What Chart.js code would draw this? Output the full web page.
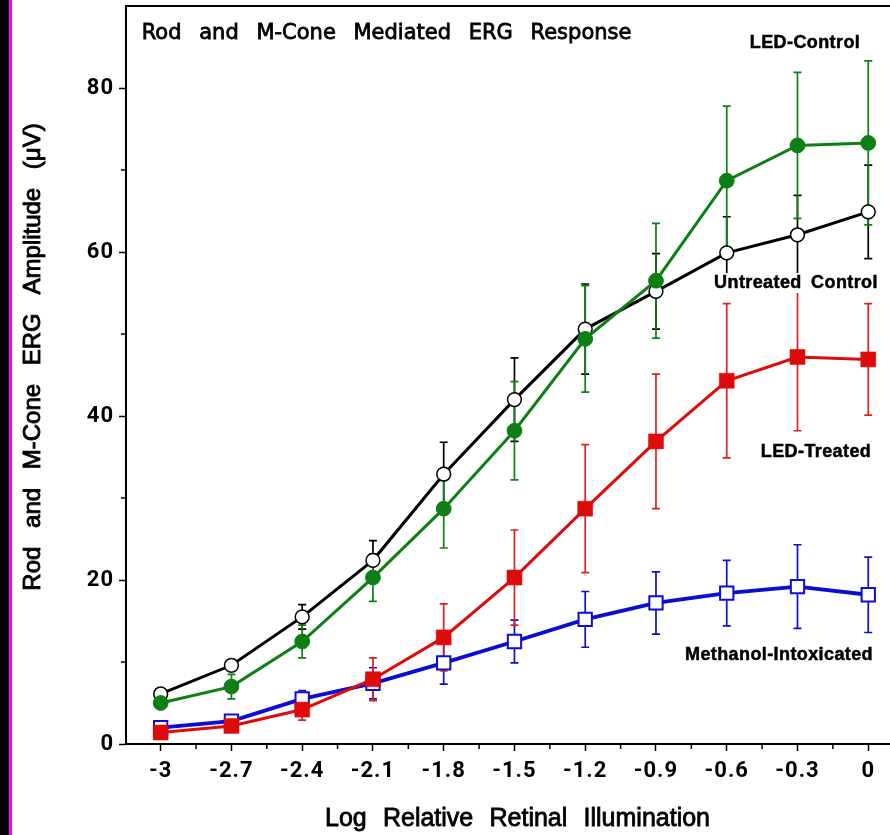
<!DOCTYPE html>
<html><head><meta charset="utf-8">
<script src="https://cdn.jsdelivr.net/npm/chart.js@4/dist/chart.umd.min.js"></script>
<style>
html,body{margin:0;padding:0;background:#fff;overflow:hidden;width:890px;height:835px;position:relative;}
#s1{position:absolute;left:0;top:0;width:9px;height:835px;background:#000;}
#s2{position:absolute;left:9px;top:0;width:3px;height:835px;background:#ff00ff;}
#c{position:absolute;left:12px;top:0;}
</style></head><body>
<div id="s1"></div><div id="s2"></div>
<canvas id="c" width="898" height="835"></canvas>
<script>
// ---- data ----
const xValues = [-3, -2.7, -2.4, -2.1, -1.8, -1.5, -1.2, -0.9, -0.6, -0.3, 0];
const untreated     = [6.1, 9.6, 15.5, 22.4, 32.9, 42.0, 50.6, 55.2, 59.9, 62.1, 64.9];
const untreatedErr  = [0.5, 0.6, 1.5, 2.4, 3.9, 5.1, 5.5, 4.6, 4.4, 4.8, 5.7];
const ledControl    = [5.0, 7.0, 12.5, 20.3, 28.7, 38.2, 49.4, 56.5, 68.7, 73.0, 73.3];
const ledControlErr = [0.5, 1.5, 2.0, 2.9, 4.8, 6.0, 6.5, 7.0, 9.1, 8.9, 10.0];
const ledTreated    = [1.4, 2.2, 4.2, 7.9, 13.0, 20.3, 28.7, 36.9, 44.3, 47.2, 46.9];
const ledTreatedErr = [0.4, 0.5, 1.3, 2.6, 4.1, 5.8, 7.8, 8.2, 9.4, 9.0, 6.8];
const methanol      = [2.0, 2.8, 5.5, 7.4, 9.9, 12.5, 15.2, 17.2, 18.4, 19.2, 18.2];
const methanolErr   = [0.4, 0.5, 1.0, 1.9, 2.6, 2.6, 3.4, 3.8, 4.0, 5.1, 4.6];
const xTicks = [-3, -2.7, -2.4, -2.1, -1.8, -1.5, -1.2, -0.9, -0.6, -0.3, 0];
const xTickLabels = ['-3', '-2.7', '-2.4', '-2.1', '-1.8', '-1.5', '-1.2', '-0.9', '-0.6', '-0.3', '0'];
const xMinorTicks = [-2.85, -2.55, -2.25, -1.95, -1.65, -1.35, -1.05, -0.75, -0.45, -0.15, 0.15];
const yTicks = [0, 20, 40, 60, 80];
const yMinorTicks = [10, 30, 50, 70];
const chartTitle = 'Rod and M-Cone Mediated ERG Response';
const xTitle = 'Log Relative Retinal Illumination';
const yTitle = 'Rod and M-Cone ERG Amplitude (\u03BCV)';
const seriesLabels = ['LED-Control', 'LED-Treated', 'Untreated Control', 'Methanol-Intoxicated'];

const GREEN = '#0d7f14', RED = '#dd0b0b', BLUE = '#0c0cd2', BLACK = '#000000';
function pts(ys) { return xValues.map((x, i) => ({ x: x, y: ys[i] })); }

const datasets = [
  { label: seriesLabels[0], data: pts(ledControl), borderColor: GREEN, backgroundColor: GREEN,
    pointStyle: 'circle', pointRadius: 7.4, pointBackgroundColor: GREEN, pointBorderColor: GREEN, pointBorderWidth: 1, borderWidth: 3 },
  { label: seriesLabels[1], data: pts(ledTreated), borderColor: RED, backgroundColor: RED,
    pointStyle: 'rect', pointRadius: 10.6, pointBackgroundColor: RED, pointBorderColor: RED, pointBorderWidth: 0.5, borderWidth: 3 },
  { label: seriesLabels[2], data: pts(untreated), borderColor: BLACK, backgroundColor: '#fff',
    pointStyle: 'circle', pointRadius: 6.9, pointBackgroundColor: '#fff', pointBorderColor: BLACK, pointBorderWidth: 1.5, borderWidth: 3 },
  { label: seriesLabels[3], data: pts(methanol), borderColor: BLUE, backgroundColor: '#fff',
    pointStyle: 'rect', pointRadius: 9.4, pointBackgroundColor: '#fff', pointBorderColor: BLUE, pointBorderWidth: 2, borderWidth: 3.8 }
];
const errSets = [ledControlErr, ledTreatedErr, untreatedErr, methanolErr];
const errColors = [GREEN, '#e02020', BLACK, BLUE];

function drawWords(ctx, text, x, y, extraGap, align, stroke, bg) {
  const words = text.split(' ');
  const sp = ctx.measureText(' ').width + extraGap;
  const widths = words.map(w => ctx.measureText(w).width);
  const total = widths.reduce((a, b) => a + b, 0) + sp * (words.length - 1);
  let cx = align === 'center' ? x - total / 2 : (align === 'right' ? x - total : x);
  if (bg) {
    ctx.save(); ctx.fillStyle = '#fff';
    ctx.fillRect(cx - 3, y - bg[0], total + 6, bg[0] + bg[1]);
    ctx.restore();
  }
  ctx.textAlign = 'left';
  words.forEach((w, i) => {
    ctx.fillText(w, cx, y);
    if (stroke) { ctx.lineWidth = stroke; ctx.strokeStyle = ctx.fillStyle; ctx.strokeText(w, cx, y); }
    cx += widths[i] + sp;
  });
}

const decor = {
  id: 'decor',
  beforeDraw(chart) {
    try { chart.ctx.letterSpacing = '1px'; } catch (e) {}
  },
  beforeDatasetsDraw(chart) {
    const { ctx, scales: { x, y } } = chart;
    ctx.save();
    ctx.lineWidth = 1.7;
    for (let i = chart.data.datasets.length - 1; i >= 0; i--) {
      const ds = chart.data.datasets[i];
      const e = errSets[i];
      ctx.strokeStyle = errColors[i];
      ds.data.forEach((p, j) => {
        const px = x.getPixelForValue(p.x);
        const t = y.getPixelForValue(p.y + e[j]);
        const b = y.getPixelForValue(p.y - e[j]);
        ctx.beginPath();
        ctx.moveTo(px, t); ctx.lineTo(px, b);
        ctx.moveTo(px - 4, t); ctx.lineTo(px + 4, t);
        ctx.moveTo(px - 4, b); ctx.lineTo(px + 4, b);
        ctx.stroke();
      });
    }
    ctx.restore();
  },
  afterDraw(chart) {
    const { ctx, chartArea: a, scales: { x, y } } = chart;
    ctx.save();
    ctx.strokeStyle = '#000';
    ctx.lineWidth = 2;
    ctx.beginPath(); ctx.moveTo(a.left - 1, a.top); ctx.lineTo(a.right, a.top); ctx.stroke();
    ctx.lineWidth = 1.5;
    ctx.beginPath();
    xMinorTicks.forEach(v => { const px = x.getPixelForValue(v); ctx.moveTo(px, a.bottom); ctx.lineTo(px, a.bottom + 5); });
    yMinorTicks.forEach(v => { const py = y.getPixelForValue(v); ctx.moveTo(a.left, py); ctx.lineTo(a.left - 5, py); });
    ctx.stroke();

    ctx.fillStyle = '#000';
    ctx.textBaseline = 'alphabetic';
    try { ctx.letterSpacing = '0px'; } catch (e) {}
    ctx.font = '21px "DejaVu Sans"';
    drawWords(ctx, chartTitle, 129.7, 39.3, 11, 'left', 0.8);

    ctx.font = '25px "Liberation Sans"';
    drawWords(ctx, xTitle, 505.5, 826, 9.3, 'center', 0.8);

    ctx.save();
    ctx.translate(28, 357);
    ctx.rotate(-Math.PI / 2);
    ctx.font = '24px "Liberation Sans"';
    drawWords(ctx, yTitle, 0, 0, 12, 'center', 0.9);
    ctx.restore();

    try { ctx.letterSpacing = '0.4px'; } catch (e) {}
    ctx.font = 'bold 18px "Liberation Sans"';
    const bg = [15, 5];
    drawWords(ctx, seriesLabels[0], 805 - 12, 48.3, 0, 'center', 0.5, bg);
    drawWords(ctx, seriesLabels[2], 796 - 12, 288, 4, 'center', 0.5, bg);
    drawWords(ctx, seriesLabels[1], 816 - 12, 457.3, 0, 'center', 0.5, bg);
    drawWords(ctx, seriesLabels[3], 779 - 12, 660, 0, 'center', 0.5, bg);
    ctx.restore();
  }
};

const tickFont = { family: 'Roboto', size: 22, weight: 'bold' };
new Chart(document.getElementById('c'), {
  type: 'scatter',
  data: { datasets: datasets.map(d => Object.assign({ showLine: true, tension: 0, clip: false }, d)) },
  options: {
    responsive: false, animation: false, devicePixelRatio: 1,
    layout: { autoPadding: false, padding: { top: 6, left: 0, right: 0, bottom: 0 } },
    plugins: { legend: { display: false }, tooltip: { enabled: false }, title: { display: false } },
    scales: {
      x: {
        type: 'linear', position: 'bottom', min: -3.147, max: 0.177,
        afterFit(s) { s.height = 91; s.paddingLeft = 0; s.paddingRight = 0; },
        afterBuildTicks(s) { s.ticks = xTicks.map(v => ({ value: v })); },
        grid: { drawOnChartArea: false, drawTicks: true, tickLength: 7, tickColor: '#000', tickWidth: 1.5 },
        border: { display: true, color: '#000', width: 2 },
        ticks: { color: '#000', font: tickFont, padding: 7, maxRotation: 0, autoSkip: false,
          callback(v, i) { return xTickLabels[i]; } }
      },
      y: {
        type: 'linear', position: 'left', min: 0, max: 90,
        afterFit(s) { s.width = 114; s.paddingTop = 0; s.paddingBottom = 0; },
        afterBuildTicks(s) { s.ticks = yTicks.map(v => ({ value: v })); },
        grid: { drawOnChartArea: false, drawTicks: true, tickLength: 7, tickColor: '#000', tickWidth: 1.5 },
        border: { display: true, color: '#000', width: 2 },
        ticks: { color: '#000', font: tickFont, padding: 5, autoSkip: false,
          callback(v) { return String(v); } }
      }
    }
  },
  plugins: [decor]
});
</script>
</body></html>
